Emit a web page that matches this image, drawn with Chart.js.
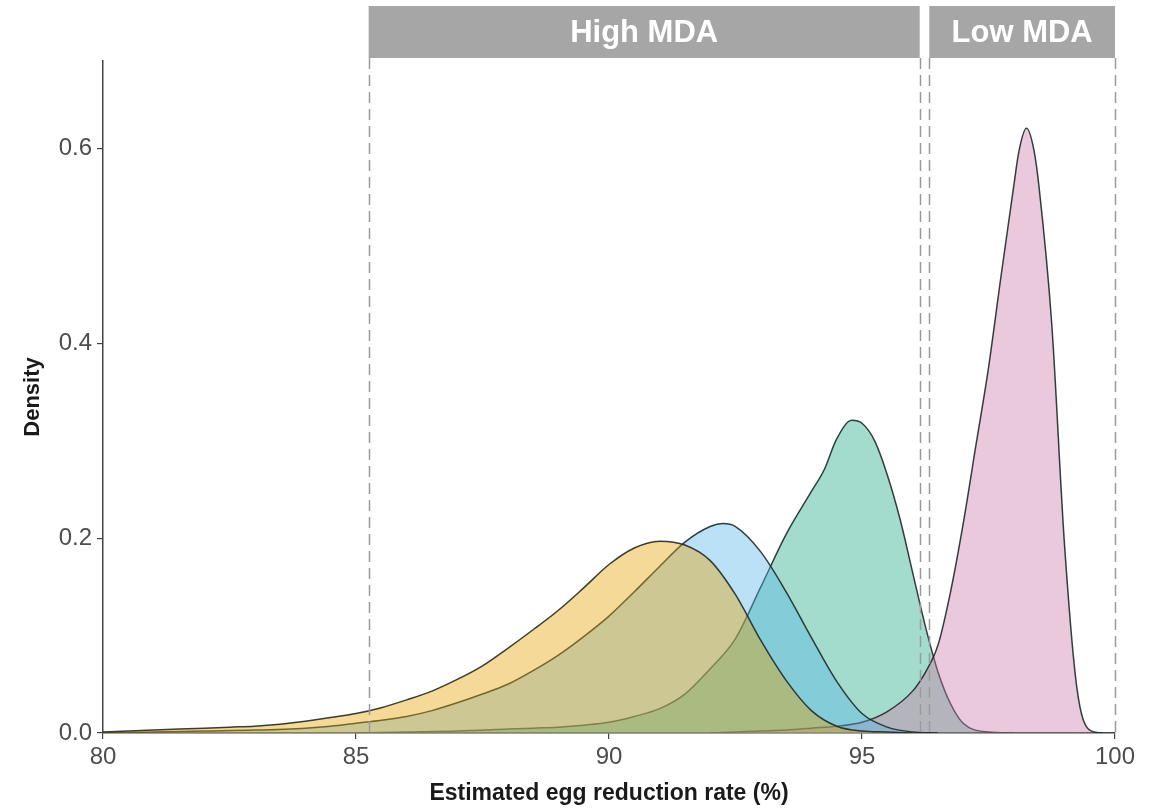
<!DOCTYPE html>
<html><head><meta charset="utf-8">
<script src="https://cdn.jsdelivr.net/npm/chart.js@4.4.1/dist/chart.umd.min.js"></script>
<style>html,body{margin:0;padding:0;background:#fff;overflow:hidden}</style>
</head><body>
<canvas id="c" width="1151" height="809"></canvas>
<script>
// ---- data ----
const orangeX = [80,80.5,81,81.5,82,82.5,83,83.5,84,84.5,85,85.5,86,86.5,87,87.5,88,88.5,89,89.5,90,90.5,91,91.5,92,92.5,93,93.5,94,94.5,95,95.5,96];
const orangeY = [0.001,0.002,0.003,0.004,0.005,0.006,0.007,0.009,0.012,0.016,0.020,0.026,0.034,0.043,0.055,0.069,0.087,0.106,0.126,0.149,0.173,0.190,0.197,0.193,0.177,0.142,0.095,0.054,0.023,0.007,0.002,0.001,0];

const blueX = [80,81,82,83,84,84.5,85,85.5,86,86.5,87,87.5,88,88.5,89,89.5,90,90.5,91,91.5,92,92.25,92.5,93,93.5,94,94.5,95,95.5,96,96.5];
const blueY = [0,0.001,0.002,0.003,0.005,0.007,0.010,0.013,0.017,0.023,0.031,0.040,0.050,0.064,0.080,0.099,0.120,0.145,0.171,0.196,0.212,0.215,0.212,0.186,0.145,0.098,0.053,0.020,0.006,0.001,0];

const greenX = [85,86,87,88,88.5,89,89.5,90,90.5,91,91.5,92,92.5,93,93.5,94,94.25,94.5,94.8,95,95.25,95.5,95.75,96,96.25,96.5,96.75,97,97.5,98];
const greenY = [0,0.001,0.002,0.004,0.005,0.006,0.008,0.011,0.017,0.025,0.040,0.066,0.097,0.150,0.204,0.248,0.270,0.302,0.321,0.318,0.300,0.265,0.220,0.165,0.110,0.063,0.030,0.010,0.001,0];

const pinkX = [92,93,93.5,94,94.5,95,95.5,96,96.25,96.5,96.75,97,97.25,97.5,97.75,98,98.1,98.25,98.4,98.5,98.75,99,99.25,99.5,99.75];
const pinkY = [0,0.002,0.003,0.005,0.007,0.011,0.022,0.043,0.062,0.090,0.145,0.215,0.295,0.375,0.470,0.562,0.597,0.621,0.598,0.560,0.420,0.195,0.045,0.003,0];

const xTicks = [80,85,90,95,100];
const yTicks = [0,0.2,0.4,0.6];
const cutoffs = [85.25,96.14,96.33,100];
const regionLabels = ['High MDA','Low MDA'];
const regionFrom = [85.25,96.33];
const regionTo = [96.14,100];

const FONT = '"Liberation Sans", Arial, Helvetica, sans-serif';
const pts = (xs, ys) => xs.map((x, i) => ({x: x, y: ys[i]}));

function ds(xs, ys, fill) {
  return {
    data: pts(xs, ys),
    backgroundColor: fill,
    borderColor: 'rgba(30,42,42,0.9)',
    borderWidth: 1.5,
    fill: 'origin',
    pointRadius: 0,
    cubicInterpolationMode: 'monotone'
  };
}

const overlay = {
  id: 'overlay',
  afterDatasetsDraw(chart) {
    const ctx = chart.ctx, xs = chart.scales.x, ca = chart.chartArea;
    ctx.save();
    ctx.strokeStyle = '#9a9a9a';
    ctx.lineWidth = 1.5;
    ctx.setLineDash([11, 6]);
    cutoffs.forEach(v => {
      const px = Math.round(xs.getPixelForValue(v)) + 0.5;
      ctx.beginPath();
      ctx.moveTo(px, ca.top - 3);
      ctx.lineTo(px, ca.bottom);
      ctx.stroke();
    });
    ctx.restore();
  },
  afterDraw(chart) {
    const ctx = chart.ctx, xs = chart.scales.x, ca = chart.chartArea;
    ctx.save();
    const top = ca.top - 55, h = 52;
    regionLabels.forEach((lab, i) => {
      const l = xs.getPixelForValue(regionFrom[i]);
      const r = xs.getPixelForValue(regionTo[i]);
      ctx.fillStyle = '#a6a6a6';
      ctx.fillRect(l, top, r - l, h);
      ctx.fillStyle = '#ffffff';
      ctx.font = 'bold 31px ' + FONT;
      ctx.textAlign = 'center';
      ctx.textBaseline = 'middle';
      ctx.fillText(lab, (l + r) / 2, top + h / 2 + 1);
    });
    ctx.restore();
  }
};

new Chart(document.getElementById('c'), {
  type: 'line',
  data: {
    datasets: [
      ds(orangeX, orangeY, 'rgba(230,159,0,0.4)'),
      ds(blueX, blueY, 'rgba(86,180,233,0.4)'),
      ds(pinkX, pinkY, 'rgba(204,121,167,0.4)'),
      ds(greenX, greenY, 'rgba(0,158,115,0.36)')
    ]
  },
  options: {
    responsive: false,
    animation: false,
    devicePixelRatio: 1,
    layout: {padding: {left: 0, right: 36, top: 61, bottom: 0}},
    plugins: {legend: {display: false}, tooltip: {enabled: false}},
    scales: {
      x: {
        type: 'linear', min: 80, max: 100,
        afterBuildTicks: s => { s.ticks = xTicks.map(v => ({value: v})); },
        afterFit: s => { s.height = 76; },
        ticks: {font: {size: 24, family: FONT}, color: '#4d4d4d', padding: 4, maxRotation: 0,
                callback: v => String(v)},
        grid: {display: true, drawOnChartArea: false, drawTicks: true, tickLength: 6, color: '#444', lineWidth: 1.2},
        border: {display: true, color: '#444', width: 1.5},
        title: {display: true, text: 'Estimated egg reduction rate (%)', color: '#1a1a1a',
                font: {size: 23, weight: 'bold', family: FONT}, padding: {top: 0, bottom: 2}}
      },
      y: {
        type: 'linear', min: 0, max: 0.69,
        afterBuildTicks: s => { s.ticks = yTicks.map(v => ({value: v})); },
        afterFit: s => { s.width = 103; },
        ticks: {font: {size: 24, family: FONT}, color: '#4d4d4d', padding: 5,
                callback: v => Number(v).toFixed(1)},
        grid: {display: true, drawOnChartArea: false, drawTicks: true, tickLength: 6, color: '#444', lineWidth: 1.2},
        border: {display: true, color: '#444', width: 1.5},
        title: {display: true, text: 'Density', color: '#1a1a1a',
                font: {size: 22, weight: 'bold', family: FONT}, padding: {top: 20, bottom: 0}}
      }
    }
  },
  plugins: [overlay]
});
</script>
</body></html>
